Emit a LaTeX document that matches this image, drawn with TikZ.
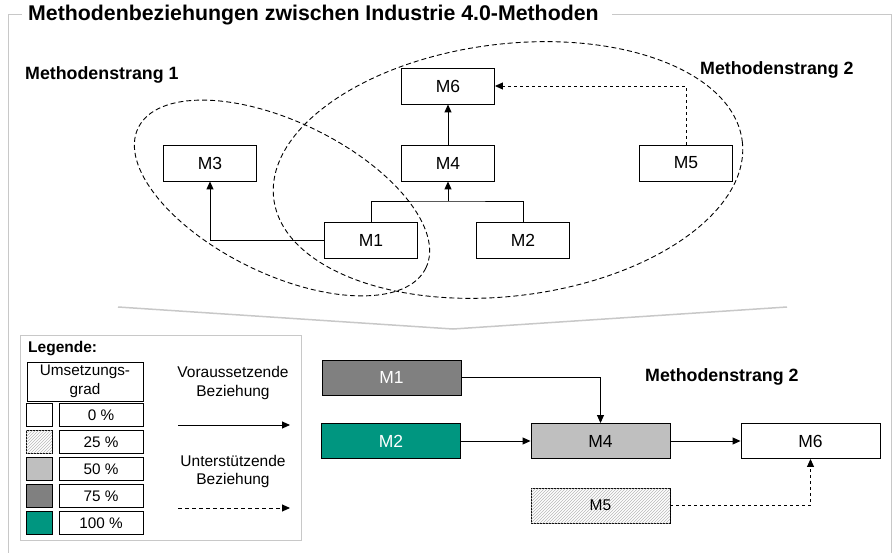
\documentclass[tikz,border=0pt]{standalone}
\usepackage{fontspec}
\setmainfont{Liberation Sans}
\usetikzlibrary{arrows.meta,patterns}
\definecolor{umsgruen}{RGB}{0,150,128}
\definecolor{rahmen}{RGB}{200,200,200}
\tikzset{box/.style={draw,line width=0.9pt,minimum width=93pt,minimum height=36pt,inner sep=0pt,fill=white,font=\fontsize{17.5}{19}\selectfont},
mbox/.style={box,minimum width=139pt,minimum height=35pt},
arr/.style={line width=0.9pt,-{Triangle[length=8pt,width=7pt]}},
strang/.style={line width=0.9pt,dash pattern=on 5pt off 3pt},
lbl/.style={font=\bfseries\fontsize{17.8}{20}\selectfont,anchor=west,inner sep=0pt},
lgd/.style={draw,line width=0.9pt,inner sep=0pt,minimum height=23pt,font=\fontsize{15.3}{17}\selectfont},
g0/.style={fill=white},g25/.style={fill=white,postaction={pattern=north east lines,pattern color=gray!55}},
g50/.style={fill=gray!50},g75/.style={fill=gray},g100/.style={fill=umsgruen}}

\begin{document}
\begin{tikzpicture}[x=1pt,y=-1pt]
\useasboundingbox (0,0) rectangle (893,553);
% Rahmen und Titel
\draw[rahmen,line width=1pt] (22,15) -- (8,15) -- (8,553);
\draw[rahmen,line width=1pt] (612,15) -- (891,15) -- (891,553);
\node[lbl,font=\bfseries\fontsize{21.3}{23}\selectfont](titel)at(28,15){Methodenbeziehungen zwischen Industrie 4.0-Methoden};
% Methodenstraenge
\draw[strang,rotate around={-26:(282,198)}] (282,198) ellipse [x radius=160,y radius=76];
\draw[strang,rotate around={7:(508,170)}] (508,170) ellipse [x radius=236,y radius=126];
\node[lbl](s1)at(25,75){Methodenstrang 1};
\node[lbl](s2)at(700,70){Methodenstrang 2};
\node[box](m6)at(448,86){M6};\node[box](m4)at(448,163){M4};
\node[box](m3)at(210,163){M3};\node[box](m5)at(686,163){M5};
\node[box](m1)at(371,240){M1};\node[box](m2)at(523,240){M2};
\coordinate(j)at(448,201);
\draw[line width=0.9pt](m1.north)|-(j)-|(m2.north);
\draw[arr](j)--(m4.south);\draw[arr](m4)--(m6);
\draw[arr](m1.west)-|(m3.south);
\draw[arr,dashed](m5.north)|-(m6.east);
% Trichter
\draw[rahmen,line width=1.5pt](118,307)--(453,329)--(787,307);
% Legende
\draw[rahmen,line width=1pt](20,335)rectangle(301,540);
\node[lbl,font=\bfseries\fontsize{15.5}{17}\selectfont](leg)at(28,349){Legende:};
\node[lgd,minimum width=116pt,minimum height=39pt,align=center,font=\fontsize{15.3}{19}\selectfont](ug)at(85,381.5){Umsetzungs-\\grad};
\foreach\s/\v[count=\i] in{g0/0,g25/25,g50/50,g75/75,g100/100}{
\node[lgd,\s,minimum width=26pt](f\i)at(39,388+27*\i){};
\node[lgd,minimum width=84pt](p\i)at(101,388+27*\i){\v\ \%};}
\node[align=center,font=\fontsize{15.5}{19.5}\selectfont](vb)at(233,383){Voraussetzende\\Beziehung};
\node[align=center,font=\fontsize{15.5}{18}\selectfont](ub)at(233,471){Unterstützende\\Beziehung};
\coordinate(va1)at(178,425);\coordinate(va2)at(290,425);
\coordinate(ua1)at(178,508);\coordinate(ua2)at(290,508);
\draw[arr](va1)--(va2);\draw[arr,dash pattern=on 4pt off 3pt](ua1)--(ua2);
% Methodenstrang 2 im Detail
\node[lbl](s3)at(645,377){Methodenstrang 2};
\node[mbox,g75,text=white](n1)at(391.5,377.5){M1};
\node[mbox,g100,text=white](n2)at(391,441){M2};
\node[mbox,g50](n4)at(600.5,441){M4};
\node[mbox](n6)at(810.5,441){M6};
\node[mbox,g25,font=\fontsize{15.5}{17}\selectfont](n5)at(600.5,505.5){M5};
\draw[arr](n1.east)-|(n4.north);
\draw[arr](n2)--(n4);\draw[arr](n4)--(n6);
\draw[arr,dashed](n5.east)-|(n6.south);
\end{tikzpicture}
\end{document}
